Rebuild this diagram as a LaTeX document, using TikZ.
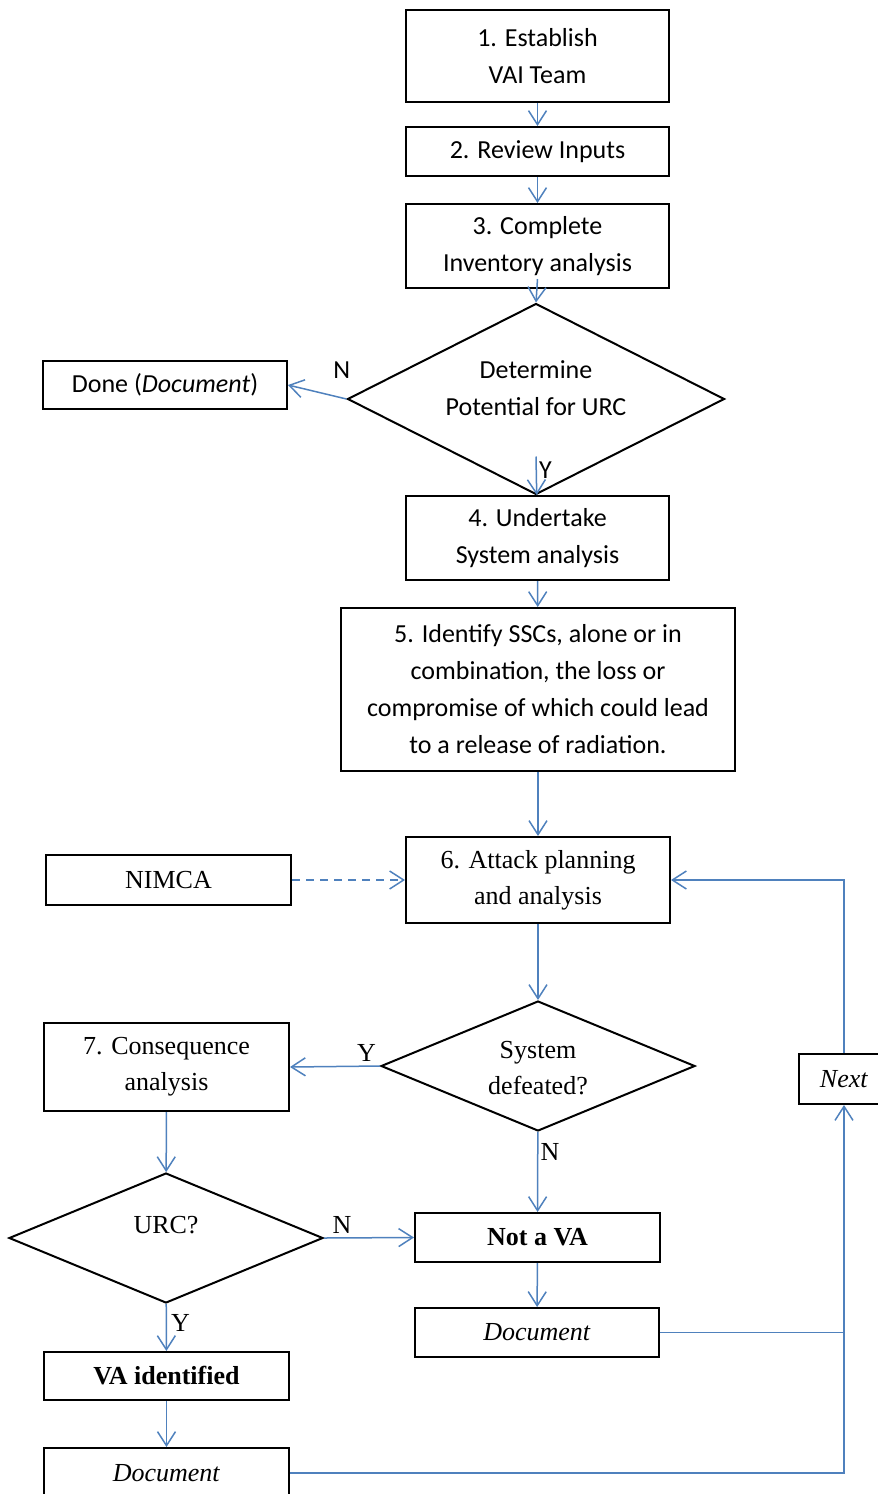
\documentclass[tikz,border=0pt]{standalone}
\usepackage{fontspec}
\setmainfont{Carlito}
\newfontfamily\timesfont{Liberation Serif}
\usetikzlibrary{arrows.meta,shapes.geometric}
\definecolor{lineblue}{RGB}{79,129,189}

\begin{document}
\begin{tikzpicture}[x=0.5pt,y=-0.5pt,->,>={Straight Barb[length=7pt,width=9pt]},
  main node/.style={rectangle,draw,line width=1pt,align=center,inner sep=0pt,font=\fontsize{13}{18.5}\selectfont},
  tnr node/.style={main node,font=\timesfont\fontsize{13}{18}\selectfont},
  test node/.style={diamond,draw,line width=1pt,inner sep=0pt},
  flow/.style={lineblue,line width=0.75pt}]
  \useasboundingbox (0,0) rectangle (878,1494);
  \node[main node,minimum width=131.5pt,minimum height=46pt] (1) at (537.5,56) {1. Establish\\VAI Team};
  \node[main node,minimum width=131.5pt,minimum height=24.5pt] (2) at (537.5,151.5) {2. Review Inputs};
  \node[main node,minimum width=131.5pt,minimum height=42pt] (3) at (537.5,246) {3. Complete\\Inventory analysis};
  \node[test node,minimum width=188.5pt,minimum height=95.5pt,
    label={[align=center,font=\fontsize{13}{18.5}\selectfont,yshift=5.5pt]center:Determine\\Potential for URC}] (8) at (536,399) {};
  \node[main node,minimum width=122pt,minimum height=24pt] (9) at (165,385) {Done (\textit{Document})};
  \node[main node,minimum width=131.5pt,minimum height=42pt] (4) at (537.5,538) {4. Undertake\\System analysis};
  \node[main node,minimum width=197pt,minimum height=81.5pt] (5) at (538,689.5) {5. Identify SSCs, alone or in\\combination, the loss or\\compromise of which could lead\\to a release of radiation.};
  \node[tnr node,minimum width=132pt,minimum height=43pt] (6) at (538,880) {6. Attack planning\\and analysis};
  \node[tnr node,minimum width=122.5pt,minimum height=25pt] (10) at (168.5,880) {NIMCA};
  \node[test node,minimum width=157pt,minimum height=65pt,
    label={[align=center,font=\timesfont\fontsize{13}{18}\selectfont,yshift=-1pt]center:System\\defeated?}] (11) at (538,1066) {};
  \node[tnr node,minimum width=122.5pt,minimum height=44pt] (7) at (166.5,1067) {7. Consequence\\analysis};
  \node[tnr node,minimum width=45pt,minimum height=25pt] (13) at (844,1079) {\textit{Next}};
  \node[test node,minimum width=157pt,minimum height=65pt,
    label={[font=\timesfont\fontsize{13}{18}\selectfont,yshift=6.5pt]center:URC?}] (14) at (166,1238) {};
  \node[tnr node,minimum width=122.5pt,minimum height=24.5pt] (12) at (537.5,1237.5) {\textbf{Not a VA}};
  \node[tnr node,minimum width=122pt,minimum height=24.5pt] (16) at (537,1332.5) {\textit{Document}};
  \node[tnr node,minimum width=122.5pt,minimum height=24pt] (15) at (166.5,1376) {\textbf{VA identified}};
  \node[tnr node,minimum width=122.5pt,minimum height=25pt] (17) at (166.5,1473) {\textit{Document}};
  \path[flow,every node/.style={font=\fontsize{13}{15}\selectfont,text=black}]
    (1) edge (2)
    (2) edge (3)
    ([yshift=5pt]3.south) edge (8.north)
    (8.west) edge node[above,pos=0.08,yshift=6pt] {N} (9.east)
    ([yshift=19.5pt]8.south) edge node[right,pos=0.35,inner sep=1pt] {Y} (4)
    (4) edge (5)
    (5) edge (6);
  \path[flow,every node/.style={font=\timesfont\fontsize{13}{15}\selectfont,text=black}]
    (10) edge[dashed,dash pattern=on 4pt off 3pt] (6)
    (6) edge (11)
    (11.west) edge node[above,pos=0.15,inner sep=2pt] {Y} (7.east)
    (11) edge node[right,pos=0.25,inner sep=1pt] {N} (12)
    (7) edge (14)
    (14.east) edge node[above,pos=0.2,inner sep=2pt] {N} (12.west)
    (14) edge node[right,pos=0.4,inner sep=2pt] {Y} (15)
    (12) edge (16)
    (15) edge (17);
  \draw[flow] (13.north) |- (6.east);
  \draw[flow,-] (16.east) -- (13.south |- 16.east);
  \draw[flow] (17.east) -| (13.south);
\end{tikzpicture}
\end{document}
